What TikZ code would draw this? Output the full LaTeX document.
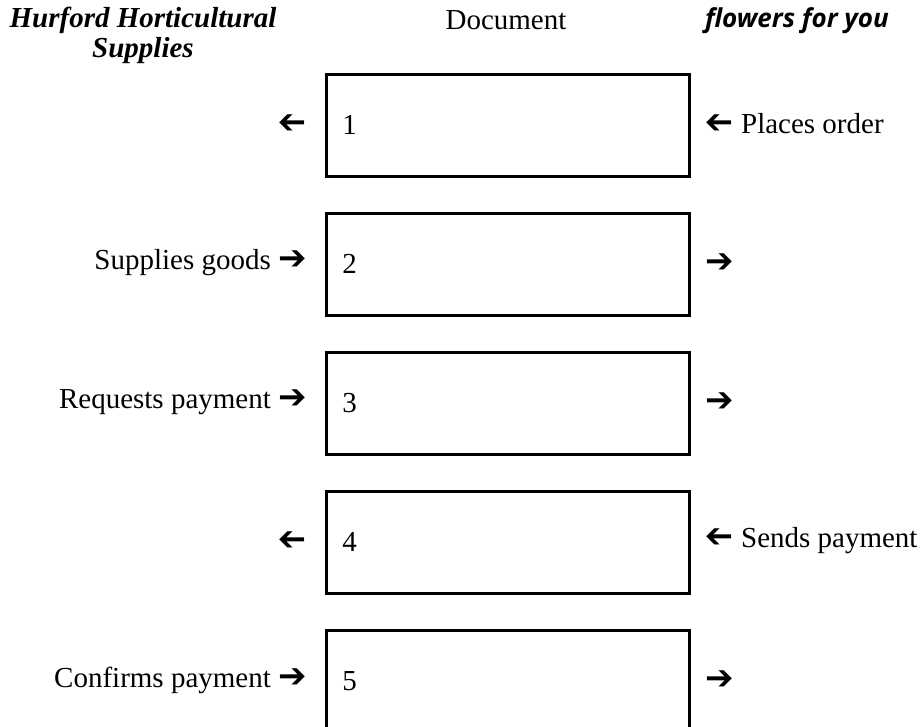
\documentclass[tikz,border=0pt]{standalone}
\usepackage{fontspec}
\usepackage{graphicx}
\setmainfont{Liberation Serif}
\newfontfamily\flowerfont{Open Sans}
\newfontfamily\arrowfont{DejaVu Sans}
\newcommand{\rarr}{{\arrowfont\fontsize{17}{17}\selectfont\bfseries ➔}}
\newcommand{\larr}{\reflectbox{\rarr}}
\tikzset{
  docbox/.style={rectangle, draw, line width=1.4pt, anchor=north west,
    minimum height=51pt, text width=165.5pt, inner xsep=8pt, align=left},
  lbl/.style={inner sep=0pt}
}
\begin{document}
\begin{tikzpicture}[x=0.5pt, y=-0.5pt, font=\fontsize{14.5}{15}\selectfont]
    \useasboundingbox (0,0) rectangle (923,727);
    \clip (0,0) rectangle (923,727);
    % Headers
    \node[lbl, align=center, font=\fontsize{14.5}{15}\selectfont\bfseries\itshape] (hhs) at (143,35) {Hurford Horticultural\\Supplies};
    \node[lbl] (doc) at (506,20) {Document};
    \node[lbl, font=\flowerfont\fontsize{13}{13}\selectfont\bfseries\itshape] (ffy) at (797,21) {flowers for you};
    % Documents
    \node[docbox] (d1) at (325,73) {1};
    \node[docbox] (d2) at (325,212) {2};
    \node[docbox] (d3) at (325,351) {3};
    \node[docbox] (d4) at (325,490) {4};
    \node[docbox] (d5) at (325,629) {5};
    % Left side
    \node[lbl, anchor=east] (l1) at (307,124) {\larr};
    \node[lbl, anchor=east] (l2) at (307,263) {Supplies goods \rarr};
    \node[lbl, anchor=east] (l3) at (307,402) {Requests payment \rarr};
    \node[lbl, anchor=east] (l4) at (307,541) {\larr};
    \node[lbl, anchor=east] (l5) at (307,680) {Confirms payment \rarr};
    % Right side
    \node[lbl, anchor=west] (r1) at (705,124) {\larr{} Places order};
    \node[lbl, anchor=west] (r2) at (705,263) {\rarr};
    \node[lbl, anchor=west] (r3) at (705,402) {\rarr};
    \node[lbl, anchor=west] (r4) at (705,541) {\larr{} Sends payment};
    \node[lbl, anchor=west] (r5) at (705,680) {\rarr};
\end{tikzpicture}
\end{document}
